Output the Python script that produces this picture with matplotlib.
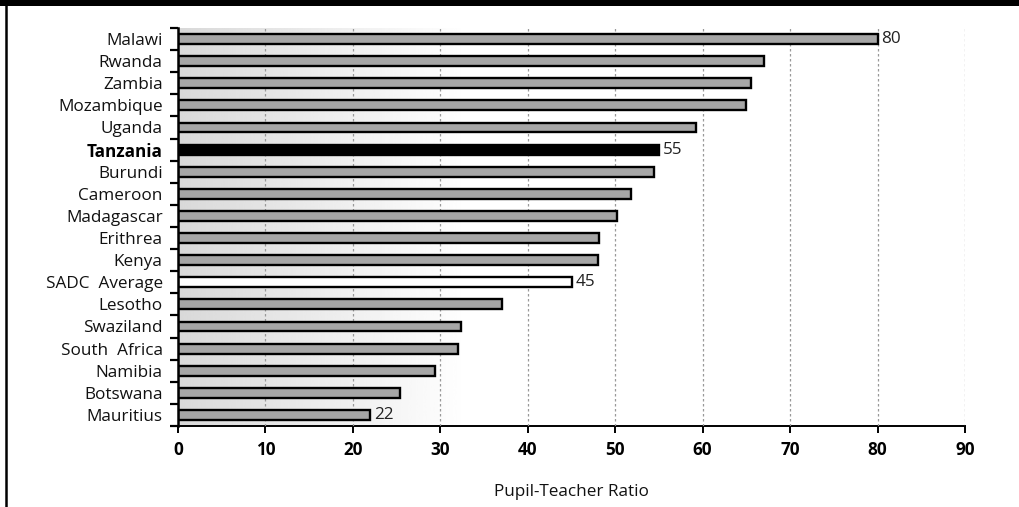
import numpy as np
import matplotlib
matplotlib.use("Agg")
from matplotlib import pyplot as plt
from matplotlib.lines import Line2D
from matplotlib.patches import Rectangle

plt.rcParams['font.family'] = ['Open Sans', 'DejaVu Sans']

# pupil-teacher ratios, top to bottom
countries = ['Malawi', 'Rwanda', 'Zambia', 'Mozambique', 'Uganda', 'Tanzania',
             'Burundi', 'Cameroon', 'Madagascar', 'Erithrea', 'Kenya',
             'SADC  Average', 'Lesotho', 'Swaziland', 'South  Africa', 'Namibia',
             'Botswana', 'Mauritius']
ratios = [80, 67, 65.5, 65, 59.2, 55, 54.4, 51.8, 50.2, 48.2, 48, 45,
          37, 32.4, 32, 29.4, 25.4, 22]
labelled = ['Malawi', 'Tanzania', 'SADC  Average', 'Mauritius']
x_ticks = [0, 10, 20, 30, 40, 50, 60, 70, 80, 90]

FS = 12.3

fig = plt.figure(figsize=(10.2, 5.07), dpi=100)
ax = fig.add_axes([0.1745, 0.1598, 0.7716, 0.785])

n = len(countries)
ypos = np.arange(n)[::-1]

# grey-to-white shading behind the left part of the plot
grad = np.linspace(0.85, 1.0, 256).reshape(1, -1)
ax.imshow(grad, cmap='gray', vmin=0, vmax=1, aspect='auto',
          extent=[0, 33, -0.5, n - 0.5], zorder=0, interpolation='bicubic')

colors = []
for c in countries:
    if c == 'Tanzania':
        colors.append('black')
    elif c.startswith('SADC'):
        colors.append('white')
    else:
        colors.append('#a6a6a6')

ax.barh(ypos, ratios, height=0.45, color=colors, edgecolor='black',
        linewidth=1.7, zorder=3)

for c, v, y in zip(countries, ratios, ypos):
    if c in labelled:
        ax.text(v + 0.45, y, f'{v:.0f}', va='center', ha='left',
                fontsize=FS, color='#222222', zorder=4)

ax.set_xlim(0, 90)
ax.set_ylim(-0.5, n - 0.5)
ax.set_xticks(x_ticks)
ax.set_xticklabels([str(t) for t in x_ticks], fontweight='bold', fontsize=FS)
ax.set_yticks(ypos)
ax.set_yticklabels(countries, fontsize=FS, color='#111111')
for lbl in ax.get_yticklabels():
    if lbl.get_text() == 'Tanzania':
        lbl.set_fontweight('bold')
        lbl.set_color('black')

ax.set_yticks(np.arange(-0.5, n, 1.0), minor=True)
ax.tick_params(axis='y', which='major', length=0, pad=11)
ax.tick_params(axis='y', which='minor', length=6, width=1.6, direction='out')
ax.tick_params(axis='x', which='major', length=5, width=1.4, pad=6)

ax.xaxis.grid(True, color='#999999', linestyle=(0, (2, 2)), linewidth=0.9)
ax.set_axisbelow(False)
for gl in ax.get_xgridlines():
    gl.set_zorder(1)

for side in ['top', 'right']:
    ax.spines[side].set_visible(False)
ax.spines['left'].set_linewidth(1.8)
ax.spines['bottom'].set_linewidth(1.4)
ax.spines['left'].set_zorder(5)

ax.set_xlabel('Pupil-Teacher Ratio', fontsize=FS, labelpad=18, color='#111111')

# frame: heavy top rule and thin left rule
fig.patches.append(Rectangle((0, 1 - 6 / 507), 1, 6 / 507, transform=fig.transFigure,
                             facecolor='black', edgecolor='none'))
fig.lines.append(Line2D([6 / 1020, 6 / 1020], [0, 1], transform=fig.transFigure,
                        color='black', linewidth=1.8))

fig.savefig('out.png', dpi=100)
